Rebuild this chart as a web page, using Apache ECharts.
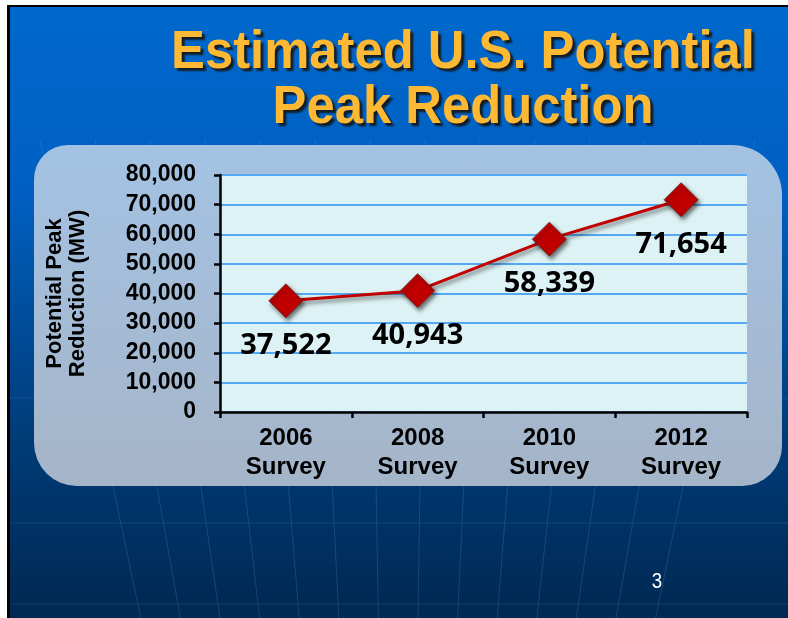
<!DOCTYPE html>
<html>
<head>
<meta charset="utf-8">
<script src="https://cdn.jsdelivr.net/npm/echarts@6/dist/echarts.min.js"></script>
<style>
html,body{margin:0;padding:0;background:#fff;}
#main{width:788px;height:618px;}
</style>
</head>
<body>
<div id="main"></div>
<script>
// 数据
var surveys = ['2006\nSurvey', '2008\nSurvey', '2010\nSurvey', '2012\nSurvey'];
var peakMW = [37522, 40943, 58339, 71654];
var yTicks = [0, 10000, 20000, 30000, 40000, 50000, 60000, 70000, 80000];

function fmt(v){
    return String(v).replace(/\B(?=(\d{3})+(?!\d))/g, ',');
}

// 背景的细线
function bgLines(){
    var arr = [];
    var tops = [40, 95, 150, 205, 260, 315, 370, 425, 480, 535, 590, 645, 700, 755];
    for (var i = 0; i < tops.length; i++) {
        var xt = tops[i];
        var xb = 400 + (xt - 400) * 0.72;
        arr.push({
            type: 'line', z: -15, silent: true,
            shape: {x1: xt, y1: 140, x2: xb, y2: 618},
            style: {stroke: 'rgba(110,170,235,0.2)', lineWidth: 1}
        });
    }
    [398, 523, 604].forEach(function(y){
        arr.push({
            type: 'line', z: -15, silent: true,
            shape: {x1: 10, y1: y, x2: 788, y2: y},
            style: {stroke: 'rgba(110,170,235,0.16)', lineWidth: 1}
        });
    });
    return arr;
}

var chart = echarts.init(document.getElementById('main'));
var graphics = [
    {type: 'rect', z: -30, silent: true, shape: {x: 7, y: 5, width: 781, height: 613}, style: {fill: '#000'}},
    {type: 'rect', z: -25, silent: true, shape: {x: 10, y: 7, width: 778, height: 611},
        style: {fill: new echarts.graphic.LinearGradient(0, 0, 0, 1, [
            {offset: 0, color: '#0068CC'},
            {offset: 0.3, color: '#0060C2'},
            {offset: 0.7, color: '#003C78'},
            {offset: 1, color: '#002851'}
        ])}}
].concat(bgLines()).concat([
    {type: 'rect', z: -10, silent: true,
        shape: {x: 34, y: 145, width: 748, height: 341, r: [34, 50, 40, 43]},
        style: {fill: new echarts.graphic.LinearGradient(0, 0, 0, 1, [
            {offset: 0, color: 'rgba(170,198,228,0.96)'},
            {offset: 1, color: 'rgba(172,186,204,0.96)'}
        ])}},
    {type: 'text', z: 10, silent: true, x: 463, y: 26, scaleX: 0.94,
        style: {
            text: 'Estimated U.S. Potential\nPeak Reduction',
            x: 0, y: 0, align: 'center', verticalAlign: 'top',
            font: 'bold 54px "Liberation Sans", Arial, sans-serif',
            lineHeight: 55,
            fill: '#FDB933',
            textShadowColor: 'rgba(20,20,20,0.9)', textShadowBlur: 2,
            textShadowOffsetX: 3, textShadowOffsetY: 3
        }},
    {type: 'text', z: 10, silent: true, x: 657, y: 571, scaleX: 0.85,
        style: {text: '3', x: 0, y: 0, align: 'center', font: '22px "Liberation Sans", sans-serif', fill: '#ffffff'}}
]);

var option = {
    animation: false,
    graphic: graphics,
    grid: {
        left: 220, right: 41, top: 175, bottom: 206,
        show: true, backgroundColor: '#DDF2F4', borderWidth: 0
    },
    xAxis: {
        type: 'category',
        data: surveys,
        boundaryGap: true,
        axisLine: {lineStyle: {color: '#000', width: 2.5}},
        axisTick: {show: true, length: 6, alignWithLabel: false, lineStyle: {color: '#000', width: 2.5}},
        axisLabel: {
            margin: 12, color: '#000',
            fontFamily: '"Liberation Sans", Arial, sans-serif',
            fontWeight: 'bold', fontSize: 24, lineHeight: 29
        },
        splitLine: {show: false}
    },
    yAxis: {
        type: 'value',
        min: yTicks[0], max: yTicks[yTicks.length - 1], interval: yTicks[1] - yTicks[0],
        name: 'Potential Peak\nReduction (MW)',
        nameLocation: 'middle', nameRotate: 90, nameGap: 131,
        nameTextStyle: {
            color: '#000', fontFamily: '"Liberation Sans", Arial, sans-serif',
            fontWeight: 'bold', fontSize: 22, lineHeight: 23, align: 'center'
        },
        axisLine: {show: true, lineStyle: {color: '#000', width: 2.5}},
        axisTick: {show: true, length: 6, lineStyle: {color: '#000', width: 2.5}},
        axisLabel: {
            margin: 24, color: '#000',
            fontFamily: '"Liberation Sans", Arial, sans-serif',
            fontWeight: 'bold', fontSize: 23,
            formatter: function(v){ return fmt(v); }
        },
        splitLine: {show: true, lineStyle: {color: '#55A8F2', width: 2}}
    },
    series: [{
        type: 'line',
        data: peakMW,
        symbol: 'diamond',
        symbolSize: 34,
        lineStyle: {
            color: '#C00000', width: 3,
            shadowColor: 'rgba(0,0,0,0.5)', shadowBlur: 4, shadowOffsetX: 2, shadowOffsetY: 3
        },
        itemStyle: {
            color: '#C00000', borderColor: '#7a2a2a', borderWidth: 1,
            shadowColor: 'rgba(0,0,0,0.55)', shadowBlur: 4, shadowOffsetX: 2, shadowOffsetY: 3
        },
        label: {
            show: true, position: 'bottom', distance: 13,
            color: '#000', fontFamily: '"Open Sans", "Noto Sans", sans-serif',
            fontWeight: 'bold', fontSize: 29,
            formatter: function(p){ return fmt(p.value); }
        },
        z: 5
    }]
};
chart.setOption(option);
</script>
</body>
</html>
